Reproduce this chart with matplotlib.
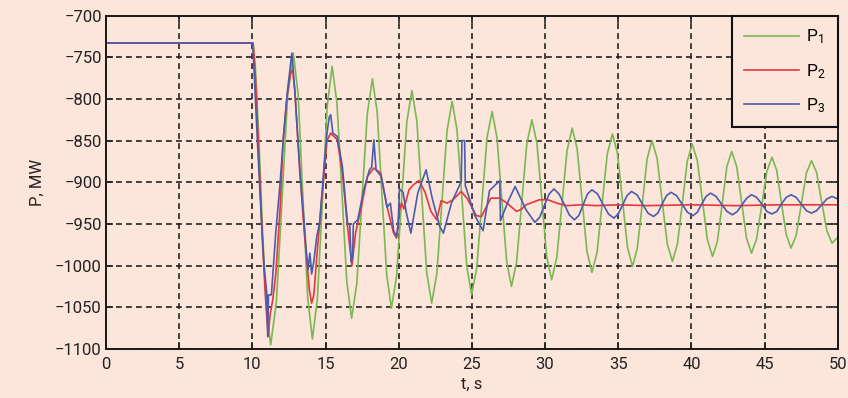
import matplotlib
matplotlib.use("Agg")
import matplotlib.pyplot as plt

# ---------------- data ----------------
t1 = [0, 10.05, 10.2, 10.45, 10.7, 10.95, 11.25,
      11.64, 12.03, 12.41, 12.8,
      13.13, 13.45, 13.78, 14.1,
      14.44, 14.78, 15.11, 15.45,
      15.78, 16.12, 16.45, 16.78,
      17.14, 17.49, 17.85, 18.2,
      18.53, 18.85, 19.18, 19.5,
      19.85, 20.2, 20.55, 20.9,
      21.24, 21.58, 21.91, 22.25,
      22.6, 22.95, 23.3, 23.65,
      23.98, 24.32, 24.65, 24.98,
      25.33, 25.68, 26.03, 26.38,
      26.71, 27.04, 27.37, 27.7,
      28.05, 28.4, 28.75, 29.1,
      29.44, 29.78, 30.11, 30.45,
      30.8, 31.15, 31.5, 31.85,
      32.19, 32.53, 32.86, 33.2,
      33.55, 33.9, 34.25, 34.6,
      34.94, 35.29, 35.63, 35.97,
      36.3, 36.64, 36.97, 37.3,
      37.65, 38.0, 38.35, 38.7,
      39.04, 39.38, 39.71, 40.05,
      40.4, 40.75, 41.09, 41.44,
      41.77, 42.1, 42.42, 42.75,
      43.09, 43.43, 43.76, 44.1,
      44.45, 44.8, 45.15, 45.5,
      45.83, 46.15, 46.48, 46.8,
      47.15, 47.5, 47.85, 48.2,
      48.55, 48.9, 49.25, 49.6, 50.0]
p1 = [-733, -733, -760, -850, -960, -1050, -1095,
      -1044, -920, -796, -745,
      -795, -917, -1038, -1088,
      -1040, -925, -809, -761,
      -805, -912, -1019, -1063,
      -1021, -920, -818, -776,
      -816, -914, -1011, -1051,
      -1013, -920, -828, -790,
      -827, -918, -1008, -1045,
      -1010, -924, -838, -803,
      -837, -919, -1001, -1035,
      -1003, -925, -847, -815,
      -846, -920, -994, -1025,
      -996, -925, -854, -825,
      -853, -921, -989, -1017,
      -990, -926, -862, -835,
      -860, -922, -983, -1008,
      -984, -925, -866, -842,
      -865, -922, -978, -1001,
      -979, -926, -872, -850,
      -871, -923, -974, -995,
      -974, -925, -875, -854,
      -874, -922, -969, -989,
      -971, -926, -881, -863,
      -881, -924, -967, -985,
      -968, -928, -887, -870,
      -886, -925, -963, -979,
      -964, -927, -889, -874,
      -888, -924, -958, -973, -966]

t2 = [0, 10.05, 10.2, 10.45, 10.7, 10.9, 11.08, 11.2, 11.4, 11.6, 11.9,
      12.1, 12.35, 12.6, 12.75, 12.9, 13.25, 13.5, 13.7, 13.9, 14.05,
      14.2, 14.4, 14.6, 14.9, 15.1, 15.35, 15.8, 16.15, 16.5, 16.8,
      17.05, 17.4, 17.86, 18.3, 18.77, 19.2, 19.65, 19.85, 20.05, 20.2,
      20.35, 20.7, 21.0, 21.4, 21.8, 22.2, 22.6, 22.9, 23.3, 23.7,
      24.27, 24.7, 25.3, 25.65, 26.0, 26.3, 26.9, 27.4, 28.05, 28.4,
      28.7, 29.6, 30.2, 30.8, 31.45, 32.5, 33.5, 35.0, 37.0, 40.0,
      43.0, 46.0, 50.0]
p2 = [-733, -733, -770, -870, -975, -1040, -1085, -1060, -1040, -1010, -930,
      -850, -800, -770, -765, -790, -888, -950, -990, -1030, -1045,
      -1035, -990, -948, -890, -850, -841, -849, -889, -953, -1000,
      -961, -933, -893, -883, -889, -929, -961, -967, -933, -925,
      -932, -909, -903, -898, -912, -935, -945, -922, -925, -921,
      -911, -920, -940, -941, -929, -919, -919, -925, -935, -932,
      -927, -921, -921, -925, -928, -927, -928, -927, -928, -927,
      -928, -927, -927]

t3 = [0, 10.0, 10.06, 10.34, 10.63, 10.8, 10.98, 11.05, 11.1, 11.3, 11.4,
      11.6, 11.9, 12.11, 12.4, 12.7, 12.9, 13.25, 13.5, 13.66, 13.8,
      13.93, 14.05, 14.2, 14.4, 14.6, 14.9, 15.1, 15.25, 15.35, 15.5,
      15.8, 16.15, 16.5, 16.65, 16.75, 16.85, 16.9, 17.2, 17.6, 18.0,
      18.15, 18.3, 18.45, 18.8, 19.2, 19.43, 19.65, 19.85, 19.95, 20.05,
      20.3, 20.5, 20.83, 21.3, 21.87, 22.3, 22.8, 23.05, 23.6, 24.27,
      24.32, 24.5, 24.55, 25.2, 25.76, 26.2, 26.9, 26.95, 27.5, 27.95,
      28.7, 29.3,
      29.63, 29.95, 30.28, 30.6,
      30.95, 31.3, 31.65, 32.0,
      32.3, 32.6, 32.9, 33.2,
      33.58, 33.95, 34.33, 34.7,
      35.0, 35.3, 35.6, 35.9,
      36.28, 36.65, 37.03, 37.4,
      37.7, 38.0, 38.3, 38.6,
      38.98, 39.35, 39.73, 40.1,
      40.4, 40.7, 41.0, 41.3,
      41.68, 42.05, 42.43, 42.8,
      43.13, 43.45, 43.78, 44.1,
      44.45, 44.8, 45.15, 45.5,
      45.83, 46.15, 46.48, 46.8,
      47.15, 47.5, 47.85, 48.2,
      48.55, 48.9, 49.25, 49.6, 50.0]
p3 = [-733, -733, -745, -849, -949, -1001, -1032, -1085, -1035, -1035, -1010,
      -960, -900, -849, -790, -745, -790, -888, -940, -977, -1005,
      -985, -1010, -995, -965, -948, -880, -841, -822, -819, -841,
      -845, -881, -949, -950, -995, -990, -950, -945, -910, -885,
      -882, -849, -885, -893, -930, -925, -958, -965, -955, -908,
      -912, -935, -961, -913, -885, -920, -953, -961, -925, -899,
      -850, -850, -904, -940, -958, -910, -898, -946, -922, -905,
      -933, -948,
      -942, -928, -914, -908,
      -914, -926, -939, -945,
      -940, -927, -914, -909,
      -914, -926, -938, -943,
      -938, -927, -916, -911,
      -915, -926, -937, -941,
      -937, -926, -916, -912,
      -916, -926, -936, -940,
      -936, -926, -917, -913,
      -917, -926, -935, -939,
      -935, -927, -919, -915,
      -918, -926, -935, -938,
      -935, -926, -918, -915,
      -918, -926, -934, -937,
      -934, -927, -920, -917, -920]

labels = ["$\\mathregular{P_1}$", "$\\mathregular{P_2}$", "$\\mathregular{P_3}$"]
colors = ["#7ab853", "#e8363b", "#4b5cae"]
xticks = list(range(0, 51, 5))
yticks = list(range(-1100, -699, 50))

# ---------------- figure ----------------
bg = "#fce5da"
plt.rcParams["font.family"] = ["Roboto", "DejaVu Sans"]
fig = plt.figure(figsize=(8.48, 3.98), dpi=100, facecolor=bg)
ax = fig.add_axes([0.125, 0.123, 0.863, 0.838], facecolor=bg)

for t, p, c, lab in zip([t1, t2, t3], [p1, p2, p3], colors, labels):
    ax.plot(t, p, color=c, lw=1.2, label=lab)

ax.set_xlim(0, 50)
ax.set_ylim(-1100, -700)
ax.set_xticks(xticks)
ax.set_yticks(yticks)
ax.set_yticklabels([str(v).replace("-", "\u2212") for v in yticks])
ax.tick_params(direction="in", length=5, width=1.2, top=True, right=True,
               labelsize=12, colors="#222222", pad=3)
ax.tick_params(axis="x", pad=6)
for s in ax.spines.values():
    s.set_linewidth(1.4)
    s.set_color("#1a1a1a")
ax.grid(True, color="#222222", linestyle=(0, (3.5, 2.5)), linewidth=1.2)
ax.set_axisbelow(True)

ax.set_xlabel("t, s", fontsize=12, color="#222222", labelpad=3)
ax.set_ylabel("P, MW", fontsize=12, color="#222222", labelpad=7)

leg = ax.legend(loc="upper right", fontsize=12.5, frameon=True, fancybox=False,
                borderaxespad=0, handlelength=3.2, labelspacing=0.9,
                borderpad=0.7, handletextpad=0.4)
leg.get_frame().set_facecolor(bg)
leg.get_frame().set_edgecolor("#111111")
leg.get_frame().set_linewidth(1.5)
leg.get_frame().set_alpha(1)

fig.savefig("out.png", dpi=100, facecolor=bg)
